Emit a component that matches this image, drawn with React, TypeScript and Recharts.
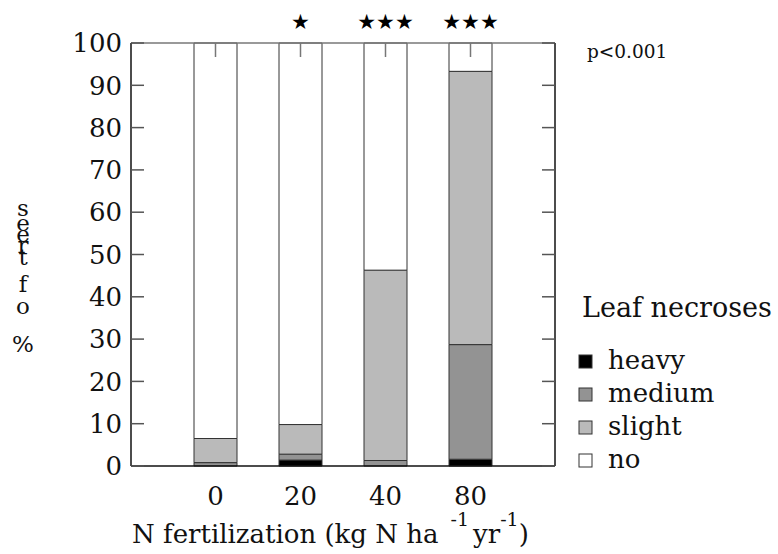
import { BarChart, Bar, XAxis, YAxis, LabelList } from 'recharts'

// N fertilization levels (kg N ha-1 yr-1)
const doses = ['0', '20', '40', '80']
// % of trees per necrosis class, stacked bottom → top
const heavy = [0, 1.4, 0, 1.6]
const medium = [0.8, 1.4, 1.3, 27.1]
const slight = [5.7, 7.0, 45.0, 64.6]
const none = [93.5, 90.2, 53.7, 6.7]
// significance marks shown above each bar
const sig = ['', '★', '★★★', '★★★']
const yTicks = [0, 10, 20, 30, 40, 50, 60, 70, 80, 90, 100]

const series = [
  { key: 'heavy', label: 'heavy', color: '#000000' },
  { key: 'medium', label: 'medium', color: '#939393' },
  { key: 'slight', label: 'slight', color: '#bababa' },
  { key: 'no', label: 'no', color: '#ffffff' },
]

const data = doses.map((d, i) => ({
  dose: d,
  heavy: heavy[i],
  medium: medium[i],
  slight: slight[i],
  no: none[i],
  sig: sig[i],
}))

const W = 778
const H = 554
const MARGIN = { top: 43, right: 222, bottom: 58, left: 0 }
const Y_AXIS_W = 131
const RIGHT_AXIS_W = 1
const X_AXIS_H = 30
const PLOT_LEFT = MARGIN.left + Y_AXIS_W
const PLOT_RIGHT = W - MARGIN.right - RIGHT_AXIS_W
const PLOT_TOP = MARGIN.top
const PLOT_BOTTOM = H - MARGIN.bottom - X_AXIS_H
const TICK_LEN = 13
// same linear 0..100 mapping as the y axis, for the inward frame ticks
const yPix = (v: number) => PLOT_BOTTOM - (v / 100) * (PLOT_BOTTOM - PLOT_TOP)

const FONT = '"DejaVu Serif", serif'
const AXIS = { stroke: '#111', strokeWidth: 1.5 }
const noLabel = () => <g />

// y label: characters stacked upright, bottom → top reads "% of trees"
const yLabelChars = [
  { ch: 's', y: 216 },
  { ch: 'e', y: 231 },
  { ch: 'e', y: 242 },
  { ch: 'r', y: 253 },
  { ch: 't', y: 265 },
  { ch: 'f', y: 292 },
  { ch: 'o', y: 314 },
  { ch: '%', y: 352 },
]

function Stars(props: any) {
  const { x, y, width, value } = props
  if (!value) return null
  return (
    <text
      x={x + width / 2}
      y={y - 14}
      textAnchor="middle"
      fontSize={21}
      fontFamily='"DejaVu Sans", sans-serif'
      fill="#000"
    >
      {value}
    </text>
  )
}

export default function App() {
  return (
    <div
      style={{
        position: 'absolute',
        left: 0,
        top: 0,
        width: W,
        height: H,
        background: '#fff',
      }}
    >
      <BarChart width={W} height={H} data={data} margin={MARGIN} barCategoryGap={0}>
        <XAxis
          xAxisId="bottom"
          dataKey="dose"
          height={X_AXIS_H}
          padding={{ left: 42, right: 42 }}
          tick={{ fill: '#111', fontSize: 26, fontFamily: FONT }}
          tickLine={false}
          tickSize={0}
          tickMargin={21}
          axisLine={AXIS}
        />
        <XAxis
          xAxisId="top"
          dataKey="dose"
          orientation="top"
          mirror
          padding={{ left: 42, right: 42 }}
          tick={noLabel}
          tickSize={14}
          tickLine={{ stroke: '#777', strokeWidth: 1.5 }}
          axisLine={{ stroke: '#777', strokeWidth: 1.5 }}
        />
        <YAxis
          yAxisId="left"
          width={Y_AXIS_W}
          domain={[0, 100]}
          ticks={yTicks}
          interval={0}
          tick={{ fill: '#111', fontSize: 26, fontFamily: FONT }}
          tickLine={false}
          tickSize={0}
          tickMargin={9}
          axisLine={AXIS}
        />
        <YAxis
          yAxisId="right"
          orientation="right"
          width={RIGHT_AXIS_W}
          domain={[0, 100]}
          tick={false}
          tickLine={false}
          axisLine={AXIS}
        />
        {series.map((s) => (
          <Bar
            key={s.key}
            dataKey={s.key}
            xAxisId="bottom"
            yAxisId="left"
            stackId="trees"
            fill={s.color}
            stroke="#333"
            strokeWidth={1}
            barSize={43}
            isAnimationActive={false}
          >
            {s.key === 'no' && <LabelList dataKey="sig" content={Stars} />}
          </Bar>
        ))}
      </BarChart>

      <svg
        width={W}
        height={H}
        style={{ position: 'absolute', left: 0, top: 0, pointerEvents: 'none' }}
      >
        {yTicks.map((t) => (
          <g key={t} stroke="#555" strokeWidth={1.5}>
            <line x1={PLOT_LEFT} x2={PLOT_LEFT + TICK_LEN} y1={yPix(t)} y2={yPix(t)} />
            <line x1={PLOT_RIGHT - TICK_LEN} x2={PLOT_RIGHT} y1={yPix(t)} y2={yPix(t)} />
          </g>
        ))}

        {yLabelChars.map((c, i) => (
          <text
            key={i}
            x={23}
            y={c.y}
            textAnchor="middle"
            fontSize={23}
            fontFamily={FONT}
            fill="#111"
          >
            {c.ch}
          </text>
        ))}

        <text x={587} y={58} fontSize={18.5} fontFamily={FONT} fill="#111">
          p&lt;0.001
        </text>

        <text x={582} y={317} fontSize={27} fontFamily={FONT} fill="#111">
          Leaf necroses
        </text>
        {series.map((s, i) => (
          <g key={s.key}>
            <rect
              x={579}
              y={355 + i * 33}
              width={13}
              height={13}
              fill={s.color}
              stroke="#333"
              strokeWidth={1}
            />
            <text
              x={608}
              y={369 + i * 33}
              fontSize={26}
              fontFamily={FONT}
              fill="#111"
            >
              {s.label}
            </text>
          </g>
        ))}

        <text x={132} y={543} fontSize={26} fontFamily={FONT} fill="#111">
          N fertilization (kg N ha
          <tspan dx={12} dy={-17} fontSize={19}>
            -1
          </tspan>
          <tspan dx={4} dy={17}>
            yr
          </tspan>
          <tspan dy={-17} fontSize={19}>
            -1
          </tspan>
          <tspan dy={17}>)</tspan>
        </text>
      </svg>
    </div>
  )
}
